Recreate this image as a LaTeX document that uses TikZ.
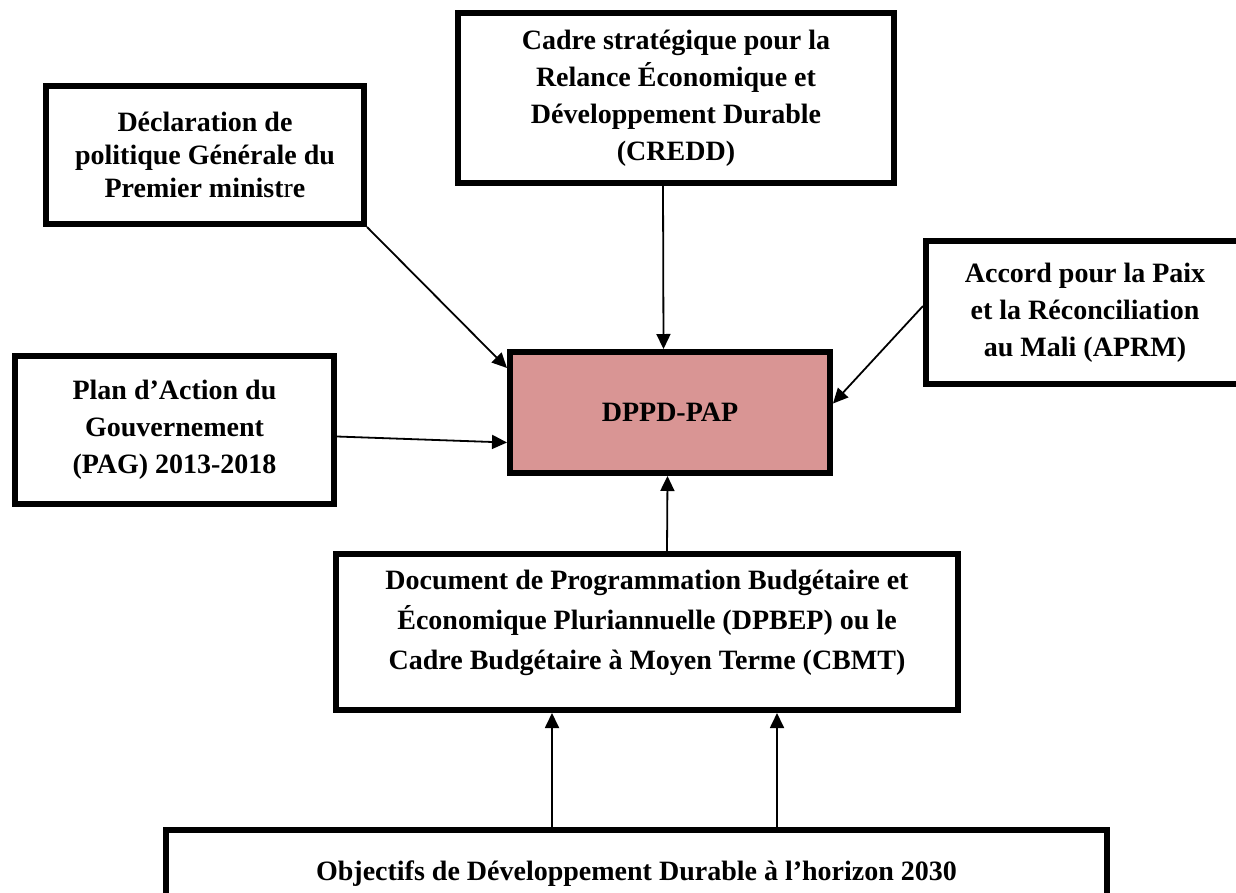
\documentclass[tikz,border=0pt]{standalone}
\usepackage{fontspec}
\setmainfont{Liberation Serif}
\usepackage{tikz}
\usetikzlibrary{positioning,arrows.meta}
\definecolor{dppdfill}{HTML}{D99594}
\tikzset{
  box/.style={rectangle, draw, line width=6pt, inner sep=0pt, align=center,
              font=\fontsize{28}{37}\selectfont\bfseries},
  fwd/.style={-{Triangle[length=15pt,width=14pt]}, line width=1.8pt},
}

\begin{document}
\begin{tikzpicture}[x=1pt,y=-1pt]
  \useasboundingbox (0,0) rectangle (1236,892);

  \node[box, font=\fontsize{28}{33}\selectfont\bfseries,
        minimum width=318pt, minimum height=138pt] (decl) at (205,155)
    {Déclaration de\\politique Générale du\\Premier minist{\mdseries r}e};
  \node[box, minimum width=436pt, minimum height=170pt] (credd) at (676,98)
    {Cadre stratégique pour la\\Relance Économique et\\Développement Durable\\(CREDD)};
  \node[box, minimum width=318pt, minimum height=143pt] (accord) at (1085,312.5)
    {Accord pour la Paix\\et la Réconciliation\\au Mali (APRM)};
  \node[box, fill=dppdfill, minimum width=320pt, minimum height=121pt] (dppd) at (670,412.5)
    {DPPD-PAP};
  \node[box, minimum width=319pt, minimum height=148pt] (plan) at (174.5,430)
    {Plan d’Action du\\Gouvernement\\(PAG) 2013-2018};
  \node[box, font=\fontsize{28}{40}\selectfont\bfseries, text depth=24pt,
        minimum width=622pt, minimum height=156pt] (dpbep) at (647,632)
    {Document de Programmation Budgétaire et\\Économique Pluriannuelle (DPBEP) ou le\\Cadre Budgétaire à Moyen Terme (CBMT)};
  \node[box, minimum width=941pt, minimum height=88pt] (odd) at (636.5,874)
    {Objectifs de Développement Durable à l’horizon 2030};

  \draw[fwd] (decl.south east) -- ([yshift=-19pt]dppd.north west);
  \draw[fwd] ([xshift=-13pt]credd.south) -- ([xshift=-6.5pt]dppd.north);
  \draw[fwd] ([yshift=6.5pt]accord.west) -- ([yshift=9pt]dppd.east);
  \draw[fwd] ([yshift=-6.5pt]plan.east) -- ([yshift=-30pt]dppd.west);
  \draw[fwd] ([xshift=20pt]dpbep.north) -- ([xshift=-2.5pt]dppd.south);
  \draw[fwd] ([xshift=-84.5pt]odd.north) -- ([xshift=-95pt]dpbep.south);
  \draw[fwd] ([xshift=140.5pt]odd.north) -- ([xshift=130pt]dpbep.south);
\end{tikzpicture}
\end{document}
